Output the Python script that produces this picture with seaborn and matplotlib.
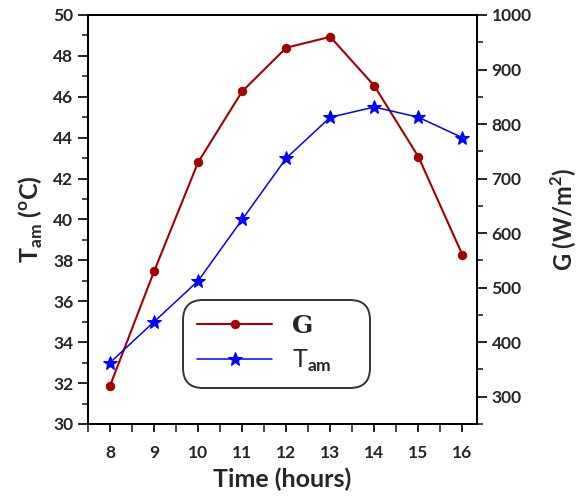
import matplotlib
matplotlib.use("Agg")
import matplotlib.pyplot as plt
from matplotlib.ticker import MultipleLocator
import seaborn as sns
import pandas as pd

hours = [8, 9, 10, 11, 12, 13, 14, 15, 16]
tam = [33, 35, 37, 40, 43, 45, 45.5, 45, 44]
g = [320, 530, 730, 860, 940, 960, 870, 740, 560]

sns.set_style("ticks")
plt.rcParams["font.family"] = ["Lato", "DejaVu Sans"]
plt.rcParams["font.weight"] = "bold"
plt.rcParams["mathtext.fontset"] = "custom"
plt.rcParams["mathtext.rm"] = "Lato:bold"
plt.rcParams["mathtext.bf"] = "Lato:bold"
plt.rcParams["axes.linewidth"] = 1.4

df = pd.DataFrame({"Time": hours, "Tam": tam, "G": g})

fig = plt.figure(figsize=(5.87, 5.04), dpi=100)
ax = fig.add_axes([88 / 587, 80 / 504, (477 - 88) / 587, (424 - 15) / 504])
ax2 = ax.twinx()

red = "#A30000"
blue = "#0000FF"

sns.lineplot(data=df, x="Time", y="G", ax=ax2, color=red, marker="o",
             markersize=6, markeredgecolor=red, linewidth=1.5, legend=False)
sns.lineplot(data=df, x="Time", y="Tam", ax=ax, color=blue, marker="*",
             markersize=10, markeredgecolor=blue, linewidth=1.1, legend=False)

ax.set_xlim(7.5, 16.33)
ax.set_ylim(30, 50)
ax2.set_ylim(250, 1000)

ax.xaxis.set_major_locator(MultipleLocator(1))
ax.xaxis.set_minor_locator(MultipleLocator(0.5))
ax.yaxis.set_major_locator(MultipleLocator(2))
ax.yaxis.set_minor_locator(MultipleLocator(1))
ax2.yaxis.set_minor_locator(MultipleLocator(50))
ax2.set_yticks([300, 400, 500, 600, 700, 800, 900, 1000])

for a in (ax, ax2):
    a.tick_params(which="major", length=7, width=1.4, direction="out", labelsize=12.5)
    a.tick_params(which="minor", length=4, width=1.2, direction="out")
ax.tick_params(axis="x", which="both", length=6)
ax.tick_params(axis="x", pad=9)

for s in ("top", "right", "left", "bottom"):
    ax.spines[s].set_visible(True)
    ax.spines[s].set_color("black")
ax2.spines["right"].set_color("black")

ax.set_xlabel("Time (hours)", fontsize=18, fontweight="bold", labelpad=5)
ax.set_ylabel(r"T$_{\mathrm{am}}$ ($^{\mathrm{o}}$C)", fontsize=18, fontweight="bold", labelpad=6)
ax2.set_ylabel(r"G (W/m$^{\mathrm{2}}$)", fontsize=17, fontweight="bold", labelpad=12)

h_g = ax2.get_lines()[0]
h_t = ax.get_lines()[0]
leg = ax.legend([h_g, h_t], ["G", r"T$_{\mathrm{am}}$"],
                loc="lower left", bbox_to_anchor=(0.245, 0.088, 0.48, 0.222),
                mode="expand", fontsize=18, handlelength=3.0, frameon=True,
                fancybox=True, edgecolor="black", borderpad=0.55, labelspacing=0.4,
                borderaxespad=0.0)
leg.get_frame().set_linewidth(1.4)
leg.get_frame().set_boxstyle("round", pad=0.0, rounding_size=0.8)
leg.get_texts()[0].set_family("DejaVu Serif")
leg.get_texts()[0].set_fontweight("bold")
leg.get_texts()[1].set_fontweight("normal")
leg.set_zorder(10)
ax.set_zorder(ax2.get_zorder() + 1)
ax.patch.set_visible(False)

for lab in ax.get_xticklabels() + ax.get_yticklabels() + ax2.get_yticklabels():
    lab.set_fontweight("bold")

fig.savefig("out.png", dpi=100)
